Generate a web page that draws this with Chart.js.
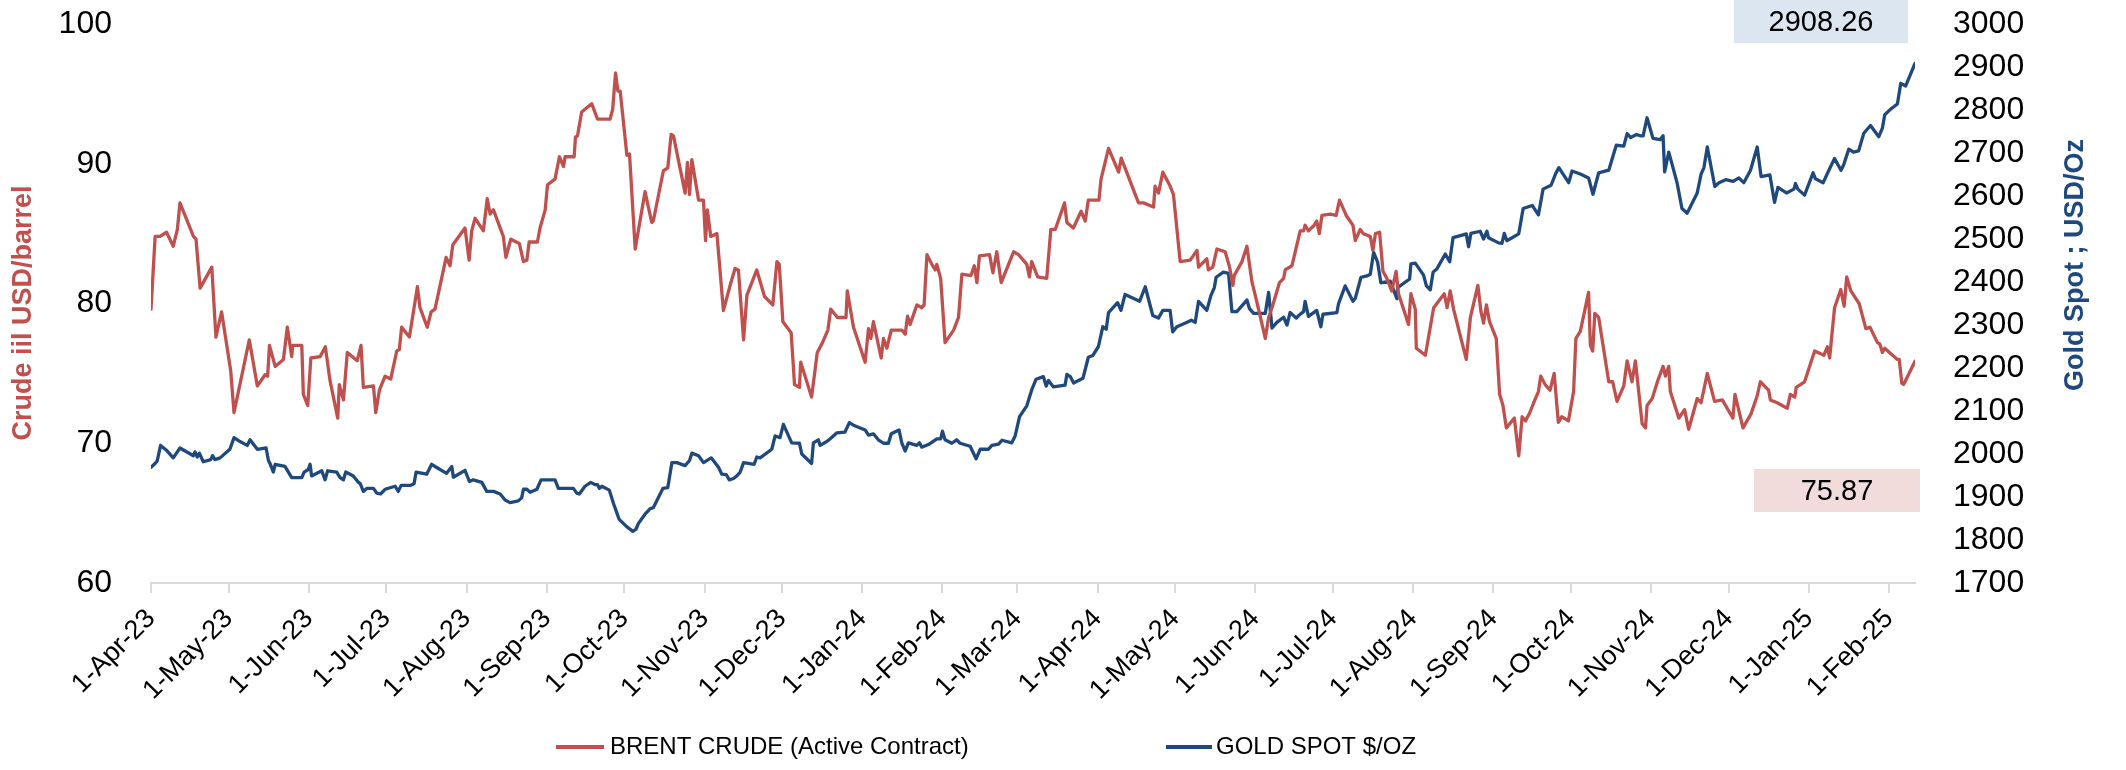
<!DOCTYPE html>
<html>
<head>
<meta charset="utf-8">
<script src="https://cdn.jsdelivr.net/npm/chart.js@4.4.1/dist/chart.umd.min.js"></script>
<style>
  html, body { margin: 0; padding: 0; background: #ffffff; }
  #wrap { position: relative; width: 2126px; height: 770px; }
</style>
</head>
<body>
<div id="wrap"><canvas id="c" width="2126" height="770"></canvas></div>
<script>
// ---- DATA (x values are days since 1-Apr-2023) ----
const monthTickDays = [0,30,61,91,122,153,183,214,244,275,306,335,366,396,427,457,488,519,549,580,610,641,672];
const monthTickLabels = ['1-Apr-23','1-May-23','1-Jun-23','1-Jul-23','1-Aug-23','1-Sep-23','1-Oct-23','1-Nov-23','1-Dec-23',
  '1-Jan-24','1-Feb-24','1-Mar-24','1-Apr-24','1-May-24','1-Jun-24','1-Jul-24','1-Aug-24','1-Sep-24','1-Oct-24','1-Nov-24',
  '1-Dec-24','1-Jan-25','1-Feb-25'];
const lastDay = 682;

const brentDays = [0,1.6,3.5,6,8.6,10.2,11.2,16.4,17.4,19,23.5,25.1,27.3,30.8,32.1,38,41.1,44.1,45.1,45.8,48,51.2,52.7,54.4,54.8,58.3,58.9,60.6,61.8,65.4,67.4,69.2,72.2,72.8,74.4,75.9,79.7,81.2,82.1,86,86.9,88.3,90.5,92.7,95,96,96.9,99.9,103,104,106.8,108.3,109.8,114.1,115.6,116.7,121.4,123,124,125.3,128.5,130,131.1,132.4,136.2,137.2,139.1,142.4,144,145.3,146.2,149.4,150.4,152.4,153.3,156.2,157.9,159.5,160.1,163.6,164.1,164.9,166.5,170.4,172.6,177.5,178.5,179.6,180.5,181.4,184,185,187.2,191,193.6,194.2,198.1,199.8,201.1,202,206.5,207.4,208.2,209.1,211.7,213.6,214.4,215.1,216.4,218.8,221.3,223.9,225.8,227.1,229.1,230.4,234.2,237.2,240.4,242,242.9,244.3,247.5,248.8,250.7,251.2,255.4,257.6,259.6,261.7,262.8,265.4,268.7,269.2,271.6,276.1,277.4,278.3,279.3,282.3,283.2,284.5,286.2,290.3,291.6,292.5,293.5,296.1,298,298.9,300,301.9,303.2,303.8,305.3,307,310.3,312.2,313.5,317,318.3,319.3,320.3,324.2,325.5,327,328.7,333.5,335.4,338.6,339.6,340.5,342.8,346.3,347.9,349.6,353.2,354.1,356.6,359.6,361.2,362.4,366.5,367.3,370.2,374.1,375.1,381.8,383.7,387.6,388.2,389.5,391.2,394,395.3,397.9,401.8,404.4,405,408.2,408.8,410.5,412.1,415.3,417,418.3,418.8,421.8,423.7,425.6,428.2,430.8,432.1,433.4,436.3,437.9,438.5,441.1,444.3,445.6,446.2,447.5,449.7,450.7,451.7,452.7,455.9,458.2,459.5,462.1,464.7,465.6,467.5,468.7,471.4,472.4,473.4,475,476.3,477.8,479.7,481.4,482.3,486.2,487.1,488.8,489.2,492.7,495.9,500,501.1,502.3,503.6,508.5,510.1,513,514.2,515.2,516.3,517.5,520.1,521.4,522.7,524,527.1,528.8,530.1,531.4,533.1,534.6,536.4,537.3,539,540.9,542.5,544.1,545.4,548,550,550.9,552.6,555.8,556.5,557.4,558.2,559.7,563.6,565.1,566.8,569.4,570.7,572.6,573.9,576.5,577.8,578.4,580.4,582.6,584.6,585.5,586.8,587.4,590.7,592.9,594.5,597.8,599.3,601.7,604.5,607.5,611.6,612.4,615.5,618.6,621,622.2,625.4,626.1,628.7,632.6,633.8,635.5,636.1,639.3,643.2,646.8,648.1,649,650.9,653.3,654.6,655.6,657.2,660.4,663,664.6,667.5,668.4,669.4,670.3,673.3,675.2,675.9,676.9,677.6,682];
const brentValues = [79.6,84.8,84.8,85.1,84.1,85.3,87.2,84.8,84.6,81.1,82.6,77.6,79.4,75.2,72.2,77.4,74.1,74.9,74.8,77.0,75.5,76.0,78.3,76.2,77.0,77.0,73.5,72.7,76.1,76.2,76.9,74.5,71.8,74.2,73.1,76.5,75.9,77.0,74.0,74.1,72.2,73.8,74.8,74.6,76.6,76.7,78.3,77.6,81.2,79.7,78.3,79.4,79.6,83.3,82.7,84.2,85.4,83.1,85.2,86.1,85.2,87.5,86.4,86.7,84.8,83.3,84.6,84.3,83.0,83.1,84.4,84.4,85.4,86.7,88.5,88.9,90.5,89.8,90.5,90.5,91.9,92.0,93.7,94.3,93.2,93.2,93.9,96.5,95.2,95.2,90.6,90.7,83.9,88.0,85.8,85.9,89.5,89.7,92.1,92.0,87.9,90.1,87.8,90.3,87.4,87.4,84.5,86.7,84.8,85.0,79.5,81.3,82.5,82.4,77.4,80.6,82.4,80.5,79.9,83.0,82.8,78.7,77.9,74.2,74.0,75.8,73.3,76.5,77.2,78.1,79.6,79.0,79.0,80.9,78.3,75.8,78.2,77.5,78.7,76.1,77.5,76.8,78.1,78.1,77.8,79.1,78.5,79.9,79.7,79.9,83.5,82.8,82.4,82.8,81.8,77.2,78.1,79.0,82.1,82.0,82.7,81.5,83.4,83.5,82.2,83.7,81.5,83.7,83.5,82.8,81.9,83.0,81.9,81.8,85.3,85.3,87.2,85.8,85.4,86.6,85.9,87.4,87.4,88.9,91.1,89.4,90.4,87.2,87.2,86.9,88.4,87.9,89.4,88.4,87.8,83.0,83.1,83.8,82.6,83.2,82.4,82.6,83.9,83.7,82.6,81.3,82.0,83.0,84.1,81.6,79.6,77.5,79.0,79.7,81.5,81.8,82.4,82.7,85.2,85.2,85.6,85.2,85.6,85.9,85.0,86.3,86.4,86.3,87.4,86.3,85.6,84.5,85.3,85.0,84.8,83.8,85.0,85.1,82.3,81.8,80.9,82.3,80.7,78.5,80.7,79.6,76.8,76.3,79.7,80.7,79.7,80.9,79.6,76.0,79.0,81.3,79.4,78.6,79.9,78.7,77.5,73.5,72.7,71.1,71.8,69.1,71.9,71.6,72.2,72.9,73.7,74.8,74.2,73.8,75.0,71.5,71.9,71.6,73.7,77.5,78.0,80.8,77.0,76.6,79.3,79.0,74.4,74.4,73.0,74.1,75.9,74.4,75.9,71.4,71.1,72.7,73.2,74.5,75.5,74.8,75.5,73.7,71.8,72.4,71.0,73.2,72.9,75.0,73.0,73.1,71.8,73.5,71.1,72.1,73.4,74.4,73.8,73.1,72.9,72.5,73.5,73.3,74.0,74.4,76.6,76.3,76.9,76.1,79.7,81.0,79.8,81.9,80.9,80.0,78.2,78.3,77.2,77.1,76.5,76.8,76.3,76.0,76.0,74.3,74.2,75.87];

const goldDays = [0,1.6,2.4,3.7,6.1,8.6,11.2,16.4,17,17.9,18.7,20.2,23.1,23.8,24.7,26.7,30.5,32.1,34.4,37.2,38.3,41.1,44.5,45.4,46,47.3,48,51.8,54.4,58.3,59.2,60.8,61.5,62.1,66,67.3,68.3,71.8,73.1,74.4,75.3,78.2,80.2,80.9,82.1,83.4,86,87.3,88.8,90.5,94.4,95.6,96.7,100.2,101.7,102.5,106.6,108.5,109.8,114.3,116.3,116.9,121.4,123.1,124.6,127.9,129.8,132.4,135,136.9,138.8,142,143.3,144,145.3,146.6,149.2,150.8,156.2,157.5,163.3,164.6,165.6,167.8,170,171.6,172.6,173.4,174.3,177.2,178.8,181,183.9,186.3,187.5,188.4,191,193,194.2,197.9,199.8,201.4,203.3,206.5,208.2,209.1,211.7,213.6,216.6,219.4,220.7,222.4,223.6,225.2,226.5,227.8,229.1,233.2,234.2,235.5,240,241.3,243.2,244.5,247.7,250.7,251.6,255.4,256.1,258,258.7,261.3,262.5,265.1,268.3,270,271.6,276.1,277.4,279.3,281.2,283.2,285.1,286.2,289.2,290.3,291.6,292.8,296.1,297.1,298,300.6,303.8,305.3,306,307,309.6,311.5,312.8,316.7,319,320.6,323.8,325.1,327.7,329,332.8,334.1,335.8,338.6,340.5,342.2,345,346.1,347,348.9,353.4,354.1,355.4,356.7,360.3,362.4,364.1,366.3,368,369.3,370.2,373.7,375,376.6,382.2,384.4,387.3,389.5,391.2,394,395,396.6,400.4,402.2,403.7,405,408.2,409.8,411.1,411.8,414.6,416.6,417.9,419.8,423.7,424.7,426.3,430.8,432.1,433.4,435.3,437.9,439.2,440.4,442.8,443.7,445.6,446.2,447.5,450.7,452.3,453.1,458.5,459.1,461.7,464.7,465.6,467.8,470.1,471.4,472.7,474.2,475.5,479.1,481.7,482,486.6,487.1,488.8,492,493.1,494.6,495.7,497.2,500.4,502.1,503.4,506.9,508.5,509.4,510.3,513.9,515.2,516.5,517.1,521,522.3,523.2,524.2,528.8,530.5,534,536.4,538.2,541.3,543,544.3,548.1,549.4,552.6,555.8,557.5,559.7,563.6,566.5,569.4,570.7,572.1,574.3,575.8,576.9,578.4,580.7,583.5,584.6,585.2,586.8,590,591.9,593.9,597.8,599.3,600.4,601.7,604.6,606.2,608.8,611.7,613.9,615.8,618.4,621,622.5,625.9,627.7,629,632.3,635.2,635.8,636.7,639.3,642.6,643.5,646.5,648.7,650.9,653.4,654.4,656.4,658.2,660.2,662.2,664.8,668,669.4,670.3,672.6,675.2,676.5,678.4,682];
const goldValues = [1969,1978,1984,2020,2008,1991,2014,1996,2005,1993,2002,1982,1987,1996,1987,1991,2011,2038,2029,2020,2033,2011,2014,1985,1978,1958,1976,1971,1945,1945,1958,1964,1976,1949,1961,1940,1961,1958,1945,1940,1958,1949,1934,1931,1913,1920,1920,1909,1907,1918,1925,1913,1927,1927,1931,1958,1953,1976,1971,1955,1971,1946,1962,1936,1940,1934,1913,1913,1907,1893,1887,1891,1898,1918,1918,1911,1918,1940,1940,1920,1920,1909,1907,1925,1934,1929,1929,1920,1925,1916,1885,1848,1831,1820,1825,1838,1860,1873,1875,1920,1922,1980,1980,1973,1985,2002,1996,1980,1991,1969,1953,1952,1940,1943,1949,1958,1980,1976,1993,1991,2011,2042,2038,2069,2026,2025,2000,1978,2026,2033,2020,2029,2035,2049,2051,2073,2067,2056,2044,2047,2033,2025,2025,2047,2056,2025,2007,2026,2020,2026,2016,2022,2035,2035,2053,2033,2025,2033,2025,2018,1989,2011,2011,2020,2023,2032,2026,2042,2087,2112,2149,2174,2180,2158,2171,2156,2160,2185,2180,2165,2176,2225,2229,2250,2296,2290,2329,2352,2334,2371,2355,2389,2322,2316,2334,2334,2284,2296,2306,2311,2306,2355,2334,2369,2387,2411,2423,2420,2331,2331,2358,2338,2327,2327,2376,2293,2306,2318,2300,2329,2316,2322,2331,2355,2320,2334,2296,2325,2329,2349,2391,2355,2362,2411,2414,2418,2469,2447,2398,2402,2361,2387,2407,2442,2444,2416,2391,2382,2423,2431,2465,2447,2503,2509,2512,2482,2513,2518,2500,2518,2503,2491,2490,2513,2496,2512,2571,2578,2556,2616,2625,2651,2666,2631,2658,2651,2642,2604,2654,2660,2718,2716,2745,2736,2743,2740,2740,2782,2734,2731,2740,2656,2702,2631,2571,2560,2607,2651,2666,2714,2622,2631,2638,2634,2642,2631,2660,2714,2645,2649,2585,2620,2607,2616,2629,2616,2602,2654,2640,2631,2660,2687,2660,2672,2709,2702,2705,2746,2764,2738,2758,2789,2802,2814,2862,2856,2908.26];

const brentLabel = 'BRENT CRUDE (Active Contract)';
const goldLabel = 'GOLD SPOT $/OZ';
const leftTitle = 'Crude iil USD/barrel';
const rightTitle = 'Gold Spot ; USD/Oz';

// ---- STYLE ----
const BRENT_COLOR = '#C0504D';
const GOLD_COLOR = '#1F497D';
const FONT = '"Liberation Sans", Arial, Helvetica, sans-serif';

Chart.defaults.font.family = FONT;
Chart.defaults.color = '#000000';

const extras = {
  id: 'extras',
  afterDraw(chart) {
    const ctx = chart.ctx;
    ctx.save();
    // axis titles
    ctx.font = 'bold 27px ' + FONT;
    ctx.textAlign = 'center';
    ctx.textBaseline = 'middle';
    ctx.fillStyle = BRENT_COLOR;
    ctx.save();
    ctx.translate(24, 313);
    ctx.rotate(-Math.PI / 2);
    ctx.fillText(leftTitle, 0, 0);
    ctx.restore();
    ctx.fillStyle = GOLD_COLOR;
    ctx.save();
    ctx.translate(2076, 265);
    ctx.rotate(-Math.PI / 2);
    ctx.fillText(rightTitle, 0, 0);
    ctx.restore();

    // last-value boxes
    ctx.font = '29px ' + FONT;
    ctx.fillStyle = '#DCE6F1';
    ctx.fillRect(1734, 0, 174, 43);
    ctx.fillStyle = '#000000';
    ctx.fillText(goldValues[goldValues.length - 1].toFixed(2), 1821, 23);
    ctx.fillStyle = '#F2DCDB';
    ctx.fillRect(1754, 469, 166, 43);
    ctx.fillStyle = '#000000';
    ctx.fillText(brentValues[brentValues.length - 1].toFixed(2), 1837, 492);

    // legend
    const ly = 747;
    ctx.font = '24px ' + FONT;
    ctx.textAlign = 'left';
    ctx.lineWidth = 4;
    ctx.strokeStyle = BRENT_COLOR;
    ctx.beginPath(); ctx.moveTo(556, ly); ctx.lineTo(604, ly); ctx.stroke();
    ctx.fillStyle = '#000000';
    ctx.fillText(brentLabel, 610, ly);
    ctx.strokeStyle = GOLD_COLOR;
    ctx.beginPath(); ctx.moveTo(1166, ly); ctx.lineTo(1212, ly); ctx.stroke();
    ctx.fillText(goldLabel, 1216, ly);
    ctx.restore();
  }
};

const lineStyle = { borderWidth: 3.3, pointRadius: 0, tension: 0, borderJoinStyle: 'round', borderCapStyle: 'round' };

new Chart(document.getElementById('c'), {
  type: 'line',
  data: {
    datasets: [
      Object.assign({
        label: brentLabel,
        data: brentDays.map((d, i) => ({ x: d, y: brentValues[i] })),
        borderColor: BRENT_COLOR,
        backgroundColor: BRENT_COLOR,
        yAxisID: 'yL'
      }, lineStyle),
      Object.assign({
        label: goldLabel,
        data: goldDays.map((d, i) => ({ x: d, y: goldValues[i] })),
        borderColor: GOLD_COLOR,
        backgroundColor: GOLD_COLOR,
        yAxisID: 'yR'
      }, lineStyle)
    ]
  },
  options: {
    responsive: false,
    animation: false,
    events: [],
    layout: { padding: { top: 24, left: 0, right: 0, bottom: 0 } },
    plugins: { legend: { display: false }, tooltip: { enabled: false } },
    scales: {
      x: {
        type: 'linear',
        min: 0,
        max: lastDay,
        afterBuildTicks: (s) => { s.ticks = monthTickDays.map(v => ({ value: v })); },
        afterFit: (s) => { s.height = 187; },
        ticks: {
          autoSkip: false,
          minRotation: 45,
          maxRotation: 45,
          padding: 10,
          color: '#000000',
          font: { size: 27 },
          callback: (v) => monthTickLabels[monthTickDays.indexOf(v)]
        },
        grid: { drawOnChartArea: false, drawTicks: true, tickLength: 10, color: '#D9D9D9', lineWidth: 2 },
        border: { display: true, color: '#D9D9D9', width: 2 }
      },
      yL: {
        position: 'left',
        min: 60,
        max: 100,
        afterFit: (s) => { s.width = 151; s.paddingTop = 0; s.paddingBottom = 0; },
        ticks: { stepSize: 10, padding: 39, color: '#000000', font: { size: 32 }, callback: (v) => String(v) },
        grid: { display: false, drawTicks: false },
        border: { display: false }
      },
      yR: {
        position: 'right',
        min: 1700,
        max: 3000,
        afterFit: (s) => { s.width = 211; s.paddingTop = 0; s.paddingBottom = 0; },
        ticks: { stepSize: 100, padding: 38, color: '#000000', font: { size: 32 }, callback: (v) => String(v) },
        grid: { display: false, drawTicks: false },
        border: { display: false }
      }
    }
  },
  plugins: [extras]
});
</script>
</body>
</html>
